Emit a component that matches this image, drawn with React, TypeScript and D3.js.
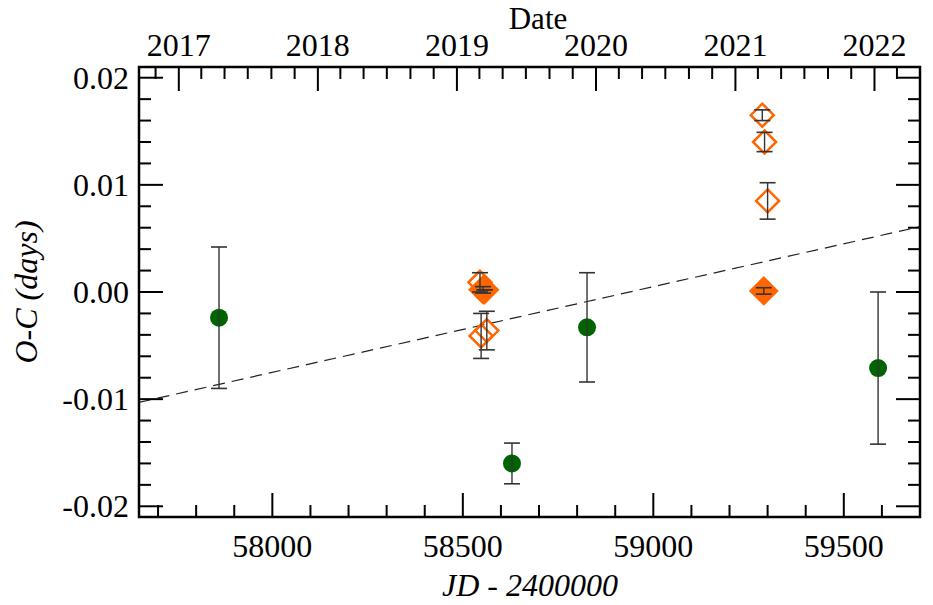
import { useRef, useEffect } from "react";
import * as d3 from "d3";

// filled circles (other minima)
const jdGreen = [57860, 58629, 58826, 59590];
const ocGreen = [-0.0024, -0.016, -0.0033, -0.0071];
const errGreen = [0.0066, 0.0019, 0.0051, 0.0071];

// open orange diamonds
const jdOpen = [58545, 58548, 58563, 59286, 59292, 59300];
const ocOpen = [0.0009, -0.0041, -0.0036, 0.0165, 0.014, 0.0085];
const errOpen = [0.0009, 0.0021, 0.0018, 0.0005, 0.0009, 0.0017];

// filled orange diamonds
const jdFilled = [58553, 58557, 59290];
const ocFilled = [0.0002, 0.0002, 0.0001];
const errFilled = [0.0003, 0.0, 0.0003];

// linear ephemeris correction (dashed)
const fitJd0 = 57650;
const fitOc0 = -0.0103;
const fitSlope = 8.0e-6;

const yTicks = [-0.02, -0.01, 0.0, 0.01, 0.02];
const yTickLabels = ["-0.02", "-0.01", "0.00", "0.01", "0.02"];
const xTicks = [58000, 58500, 59000, 59500];

const FONT = "'Liberation Serif', 'Times New Roman', serif";

export default function App() {
  const ref = useRef<SVGSVGElement | null>(null);

  useEffect(() => {
    if (!ref.current) return;
    const W = 933, H = 605;
    const L = 139, R = 920, T = 67, B = 517;
    const svg = d3.select(ref.current);
    svg.selectAll("*").remove();
    svg.attr("width", W).attr("height", H);

    const x = d3.scaleLinear().domain([57650, 59700]).range([L, R]);
    const y = d3.scaleLinear().domain([-0.021, 0.021]).range([B, T]);

    // JD-2400000 <-> UTC date
    const jdToDate = (jd: number) => new Date((jd - 40587.5) * 86400000);
    const dateToJd = (d: Date) => d.getTime() / 86400000 + 40587.5;
    const [d0, d1] = x.domain().map(jdToDate);

    const g = svg.append("g");

    // dashed fit line
    const fitPts = x.domain().map((jd) => ({ jd, oc: fitOc0 + fitSlope * (jd - fitJd0) }));
    g.append("path")
      .datum(fitPts)
      .attr("fill", "none").attr("stroke", "#222").attr("stroke-width", 1.2)
      .attr("stroke-dasharray", "12,7")
      .attr("d", d3.line<any>().x((d) => x(d.jd)).y((d) => y(d.oc)));

    const diamond = (cx: number, cy: number, h: number) =>
      `M${cx},${cy - h}L${cx + h},${cy}L${cx},${cy + h}L${cx - h},${cy}Z`;

    // markers
    jdGreen.forEach((jd, i) => {
      g.append("circle").attr("cx", x(jd)).attr("cy", y(ocGreen[i])).attr("r", 9).attr("fill", "#006400");
    });
    jdFilled.forEach((jd, i) => {
      g.append("path").attr("d", diamond(x(jd), y(ocFilled[i]), 13.5))
        .attr("fill", "#ff6600").attr("stroke", "#ff6600").attr("stroke-width", 2)
        .attr("stroke-linejoin", "miter");
    });
    jdOpen.forEach((jd, i) => {
      g.append("path").attr("d", diamond(x(jd), y(ocOpen[i]), 11.5))
        .attr("fill", "none").attr("stroke", "#ff6600").attr("stroke-width", 2.5);
    });

    // error bars on top
    const errBar = (jd: number, oc: number, e: number) => {
      const cx = x(jd), y0 = y(oc - e), y1 = y(oc + e), cw = 8;
      g.append("line").attr("x1", cx).attr("x2", cx).attr("y1", y0).attr("y2", y1)
        .attr("stroke", "#333").attr("stroke-width", 1.4);
      [y0, y1].forEach((yy) =>
        g.append("line").attr("x1", cx - cw).attr("x2", cx + cw).attr("y1", yy).attr("y2", yy)
          .attr("stroke", "#333").attr("stroke-width", 1.6));
    };
    jdGreen.forEach((jd, i) => errBar(jd, ocGreen[i], errGreen[i]));
    jdOpen.forEach((jd, i) => errBar(jd, ocOpen[i], errOpen[i]));
    jdFilled.forEach((jd, i) => errBar(jd, ocFilled[i], errFilled[i]));

    // frame
    svg.append("rect").attr("x", L).attr("y", T).attr("width", R - L).attr("height", B - T)
      .attr("fill", "none").attr("stroke", "#000").attr("stroke-width", 2.5);

    const ax = svg.append("g").attr("stroke", "#000").attr("stroke-width", 2);
    const tick = (x1: number, y1: number, x2: number, y2: number) =>
      ax.append("line").attr("x1", x1).attr("y1", y1).attr("x2", x2).attr("y2", y2);
    const MAJ = 24, MIN = 12;

    // bottom ticks
    d3.range(57700, 59701, 100).forEach((v) => {
      const len = v % 500 === 0 ? MAJ : MIN;
      tick(x(v), B, x(v), B - len);
    });
    // left/right ticks
    d3.range(-20, 21, 2).forEach((k) => {
      const v = k / 1000;
      const len = k % 10 === 0 ? MAJ : MIN;
      tick(L, y(v), L + len, y(v));
      tick(R, y(v), R - len, y(v));
    });
    // top ticks: years major, every 2 months minor
    d3.utcMonth.every(2)!.range(d0, d1).forEach((d) => {
      const len = d.getUTCMonth() === 0 ? MAJ : MIN;
      const xx = x(dateToJd(d));
      tick(xx, T, xx, T + len);
    });

    const txt = svg.append("g").attr("font-family", FONT).attr("font-size", 32).attr("fill", "#000");

    xTicks.forEach((v) =>
      txt.append("text").attr("x", x(v)).attr("y", B + 40).attr("text-anchor", "middle").text(String(v)));
    yTicks.forEach((v, i) =>
      txt.append("text").attr("x", L - 10).attr("y", y(v)).attr("dy", "0.35em")
        .attr("text-anchor", "end").text(yTickLabels[i]));
    d3.utcYear.range(d0, d1).forEach((d) =>
      txt.append("text").attr("x", x(dateToJd(d))).attr("y", 56).attr("text-anchor", "middle")
        .text(d3.utcFormat("%Y")(d)));

    txt.append("text").attr("x", 538).attr("y", 29).attr("font-size", 31)
      .attr("text-anchor", "middle").text("Date");
    txt.append("text").attr("x", 530).attr("y", 596).attr("text-anchor", "middle")
      .attr("font-style", "italic").text("JD - 2400000");
    txt.append("text").attr("transform", "translate(37,292) rotate(-90)").attr("text-anchor", "middle")
      .attr("font-style", "italic").text("O-C (days)");
  }, []);

  return <svg ref={ref} style={{ position: "absolute", left: 0, top: 0, background: "#fff" }} />;
}
